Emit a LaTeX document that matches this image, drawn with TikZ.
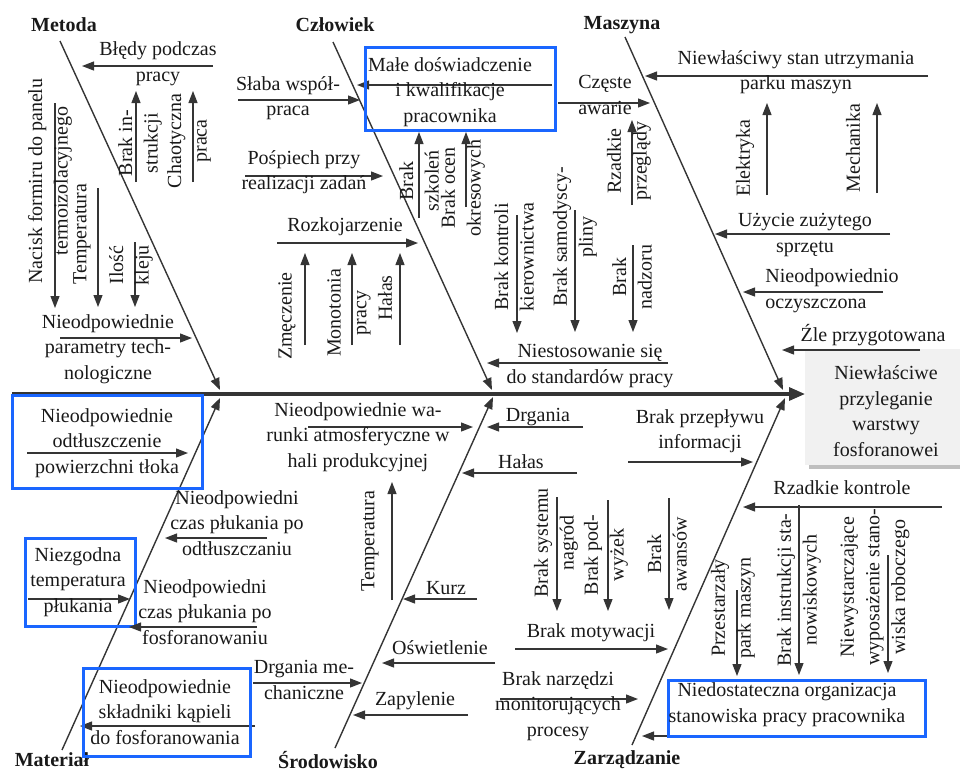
\documentclass[tikz,border=0pt]{standalone}
\usepackage{fontspec}
\setmainfont{Liberation Serif}
\usetikzlibrary{arrows.meta}
\definecolor{ink}{HTML}{353535}
\definecolor{hlblue}{HTML}{1A66FF}
\definecolor{effectfill}{HTML}{F1F1F1}

\tikzset{
  every node/.style={font=\rmfamily\fontsize{10}{12.8}\selectfont, inner sep=0pt, align=center, text=black!90},
  lbl/.style={font=\rmfamily\fontsize{10}{12.8}\selectfont\bfseries},
  rottext/.style={rotate=90},
  arr/.style={draw=ink, line width=0.6pt, -{Triangle[length=6pt,width=4.5pt]}},
  bone/.style={draw=ink, line width=0.7pt, -{Triangle[length=6pt,width=4.5pt]}},
  spine/.style={draw=ink, line width=1.6pt, -{Triangle[length=8pt,width=6.5pt]}},
  hl/.style={draw=hlblue, line width=1.5pt},
}

% cause arrow: name, start, tip
\newcommand\causearrow[3]{%
  \coordinate (#1-s) at #2; \coordinate (#1-e) at #3;
  \draw[arr] (#1-s) -- (#1-e);}

\begin{document}
\begin{tikzpicture}[x=0.5pt,y=-0.5pt]
\useasboundingbox (0,0) rectangle (960,773);
\clip (0,0) rectangle (960,773);

% ---------- effect ----------
\fill[black!25] (809,353) rectangle (970,469);
\fill[effectfill] (805,349) rectangle (970,465);
\node (effect) at (886,411) {Niewłaściwe\\przyleganie\\warstwy\\fosforanowei};

% ---------- spine and bones ----------
\coordinate (tail) at (12,394);
\coordinate (head) at (805,394);
\draw[spine] (tail) -- (head);

\coordinate (metA) at (60,41);   \coordinate (metB) at (220,390);
\coordinate (czlA) at (333,42);  \coordinate (czlB) at (492,390);
\coordinate (masA) at (625,37);  \coordinate (masB) at (783,390);
\coordinate (matA) at (62,750);  \coordinate (matB) at (220,398);
\coordinate (srdA) at (335,748); \coordinate (srdB) at (493,397);
\coordinate (zarA) at (632,745); \coordinate (zarB) at (785,398);
\draw[bone] (metA) -- (metB);
\draw[bone] (czlA) -- (czlB);
\draw[bone] (masA) -- (masB);
\draw[bone] (matA) -- (matB);
\draw[bone] (srdA) -- (srdB);
\draw[bone] (zarA) -- (zarB);

% ---------- category labels ----------
\node[lbl] (lMet) at (64,25) {Metoda};
\node[lbl] (lCzl) at (335,25) {Człowiek};
\node[lbl] (lMas) at (622,25) {Maszyna};
\node[lbl] (lMat) at (52,760) {Materiał};
\node[lbl] (lSrd) at (328,760) {Środowisko};
\node[lbl] (lZar) at (627,760) {Zarządzanie};

% ---------- Metoda ----------
\causearrow{a1}{(213,66)}{(82,66)}
\node (t1) at (158,64) {Błędy podczas\\pracy};
\causearrow{a2}{(136,182)}{(136,91)}
\node[rottext] (t2) at (140,143) {Brak in-\\strukcji};
\causearrow{a3}{(193,182)}{(193,91)}
\node[rottext] (t3) at (189,141) {Chaotyczna\\praca};
\causearrow{a4}{(55,103)}{(55,308)}
\node[rottext] (t4) at (50,181) {Nacisk formiru do panelu\\termoizolacyjnego};
\causearrow{a5}{(98,188)}{(98,307)}
\node[rottext] (t5) at (82,234) {Temperatura};
\causearrow{a6}{(135,242)}{(135,307)}
\node[rottext] (t6) at (131,265) {Ilość\\kleju};
\causearrow{a7}{(60,338)}{(192,338)}
\node (t7) at (108,349) {Nieodpowiednie\\parametry tech-\\nologiczne};

% ---------- Człowiek ----------
\causearrow{a8}{(238,100)}{(360,100)}
\node (t8) at (288,98) {Słaba współ-\\praca};
\causearrow{a9}{(552,85)}{(357,85)}
\draw[hl] (365,47) rectangle (555,130);
\node (t9) at (450,92) {Małe doświadczenie\\i kwalifikacje\\pracownika};
\causearrow{a10}{(419,218)}{(419,132)}
\node[rottext] (t10) at (419,181) {Brak\\szkoleń};
\causearrow{a11}{(466,207)}{(466,132)}
\node[rottext] (t11) at (463,188) {Brak ocen\\okresowych};
\causearrow{a12}{(245,176)}{(383,176)}
\node (t12) at (304,172) {Pośpiech przy\\realizacji zadań};
\causearrow{a13}{(277,243)}{(418,243)}
\node (t13) at (345,227) {Rozkojarzenie};
\causearrow{a14}{(305,345)}{(305,253)}
\node[rottext] (t14) at (287,316) {Zmęczenie};
\causearrow{a15}{(352,345)}{(352,253)}
\node[rottext] (t15) at (349,313) {Monotonia\\pracy};
\causearrow{a16}{(400,345)}{(400,253)}
\node[rottext] (t16) at (385,298) {Hałas};
\causearrow{a17}{(517,215)}{(517,333)}
\node[rottext] (t17) at (514,257) {Brak kontroli\\kierownictwa};
\causearrow{a18}{(575,210)}{(575,332)}
\node[rottext] (t18) at (575,237) {Brak samodyscy-\\pliny};
\causearrow{a19}{(633,245)}{(633,332)}
\node[rottext] (t19) at (632,277) {Brak\\nadzoru};
\causearrow{a20}{(632,205)}{(632,120)}
\node[rottext] (t20) at (629,161) {Rzadkie\\przeglądy};
\causearrow{a21}{(558,103)}{(650,103)}
\node (t21) at (605,95) {Częste\\awarie};
\causearrow{a22}{(668,363)}{(487,363)}
\node (t22) at (590,366) {Niestosowanie się\\do standardów pracy};

% ---------- Maszyna ----------
\causearrow{a23}{(928,76)}{(645,76)}
\node (t23) at (796,72) {Niewłaściwy stan utrzymania\\parku maszyn};
\causearrow{a24}{(767,195)}{(767,103)}
\node[rottext] (t24) at (745,158) {Elektryka};
\causearrow{a25}{(877,193)}{(877,103)}
\node[rottext] (t25) at (853,148) {Mechanika};
\causearrow{a26}{(890,234)}{(715,234)}
\node (t26) at (805,235) {Użycie zużytego\\sprzętu};
\causearrow{a27}{(883,292)}{(743,292)}
\node[anchor=west, align=left] (t27) at (765,291) {Nieodpowiednio\\oczyszczona};
\causearrow{a28}{(920,350)}{(782,350)}
\node (t28) at (873,335) {Źle przygotowana};

% ---------- Materiał ----------
\causearrow{a29}{(27,453)}{(188,453)}
\draw[hl] (12,395) rectangle (202,488);
\node (t29) at (107,443) {Nieodpowiednie\\odtłuszczenie\\powierzchni tłoka};
\causearrow{a30}{(267,538)}{(165,538)}
\node (t30) at (237,523) {Nieodpowiedni\\czas płukania po\\odtłuszczaniu};
\causearrow{a31}{(28,599)}{(130,599)}
\draw[hl] (25,538) rectangle (135,626);
\node (t31) at (78,582) {Niezgodna\\temperatura\\płukania};
\causearrow{a32}{(257,627)}{(129,627)}
\node (t32) at (205,612) {Nieodpowiedni\\czas płukania po\\fosforanowaniu};
\causearrow{a33}{(255,726)}{(80,726)}
\draw[hl] (83,668) rectangle (250,756);
\node (t33) at (165,712) {Nieodpowiednie\\składniki kąpieli\\do fosforanowania};

% ---------- Środowisko ----------
\causearrow{a34}{(308,427)}{(473,427)}
\node (t34) at (358,437) {Nieodpowiednie wa-\\runki atmosferyczne w\\hali produkcyjnej};
\causearrow{a35}{(392,600)}{(392,482)}
\node[rottext] (t35) at (370,541) {Temperatura};
\causearrow{a36}{(583,427)}{(487,427)}
\node (t36) at (538,417) {Drgania};
\causearrow{a37}{(577,473)}{(462,473)}
\node (t37) at (521,462) {Hałas};
\causearrow{a38}{(477,599)}{(403,599)}
\node (t38) at (446,588) {Kurz};
\causearrow{a39}{(495,663)}{(382,663)}
\node (t39) at (440,648) {Oświetlenie};
\causearrow{a40}{(253,683)}{(362,683)}
\node (t40) at (304,680) {Drgania me-\\chaniczne};
\causearrow{a41}{(468,715)}{(353,715)}
\node (t41) at (415,701) {Zapylenie};

% ---------- Zarządzanie ----------
\causearrow{a42}{(628,462)}{(753,462)}
\node (t42) at (700,431) {Brak przepływu\\informacji};
\causearrow{a43}{(942,507)}{(743,507)}
\node (t43) at (842,488) {Rzadkie kontrole};
\causearrow{a44}{(515,649)}{(668,649)}
\node (t44) at (591,633) {Brak motywacji};
\causearrow{a45}{(557,497)}{(557,611)}
\node[rottext] (t45) at (556,543) {Brak systemu\\nagród};
\causearrow{a46}{(608,500)}{(608,611)}
\node[rottext] (t46) at (606,555) {Brak pod-\\wyżek};
\causearrow{a47}{(669,498)}{(669,610)}
\node[rottext] (t47) at (667,554) {Brak\\awansów};
\causearrow{a48}{(500,699)}{(638,699)}
\node (t48) at (558,706) {Brak narzędzi\\monitorujących\\procesy};
\causearrow{a49}{(737,590)}{(737,676)}
\node[rottext] (t49) at (733,608) {Przestarzały\\park maszyn};
\causearrow{a50}{(799,505)}{(799,675)}
\node[rottext] (t50) at (799,590) {Brak instrukcji sta-\\nowiskowych};
\causearrow{a51}{(888,555)}{(888,673)}
\node[rottext] (t51) at (875,587) {Niewystarczające\\wyposażenie stano-\\wiska roboczego};
\causearrow{a52}{(668,736)}{(642,736)}
\draw[hl] (668,680) rectangle (925,736);
\node (t52) at (787,705) {Niedostateczna organizacja\\stanowiska pracy pracownika};

\end{tikzpicture}
\end{document}
